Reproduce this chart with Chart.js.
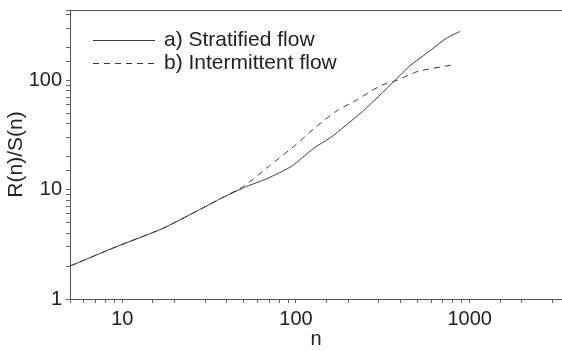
<!DOCTYPE html>
<html>
<head>
<meta charset="utf-8">
<script src="https://cdn.jsdelivr.net/npm/chart.js@4/dist/chart.umd.min.js"></script>
<style>
  html, body { margin: 0; padding: 0; background: #fff; }
  #wrap { width: 562px; height: 351px; }
</style>
</head>
<body>
<div id="wrap"><canvas id="chart"></canvas></div>
<script>
"use strict";

// values
const nStrat = [5, 9.2, 17, 27, 38, 52, 68, 94, 126, 161, 206, 242, 298, 381, 448, 600, 733, 881];
const rsStrat = [2.0, 3.0, 4.4, 6.4, 8.5, 10.7, 12.6, 16.3, 23.8, 30.6, 42, 52, 71, 104, 134, 190, 243, 280];
const nInter = [5, 9.2, 17, 27, 38, 50.6, 70.6, 98.5, 131, 173, 222, 309, 381, 506, 828];
const rsInter = [2.0, 3.0, 4.4, 6.4, 8.5, 10.9, 16.6, 25.3, 37.8, 53, 65.6, 90, 100, 121, 140];
const seriesLabels = ['a) Stratified flow', 'b) Intermittent flow'];
const decadeTicks = [1, 10, 100, 1000];

const FONT = '"Liberation Sans", Arial, sans-serif';
const INK = '#3a3a3a';

const pairs = (xs, ys) => xs.map((x, i) => ({ x: x, y: ys[i] }));

function decadeLabel(value) {
  return decadeTicks.includes(value) ? String(value) : '';
}

// legend drawn inside the plot area, plus the top frame line
const frameAndLegend = {
  id: 'frameAndLegend',
  afterDraw(chart) {
    const ctx = chart.ctx;
    const a = chart.chartArea;
    ctx.save();
    ctx.strokeStyle = '#555';
    ctx.lineWidth = 1;
    ctx.beginPath();
    ctx.moveTo(a.left, a.top + 0.5);
    ctx.lineTo(a.right, a.top + 0.5);
    ctx.stroke();

    const rows = [40, 63];
    chart.data.datasets.forEach((ds, i) => {
      const y = rows[i] + 0.5;
      ctx.strokeStyle = ds.borderColor;
      ctx.lineWidth = ds.borderWidth;
      ctx.setLineDash(ds.borderDash || []);
      ctx.beginPath();
      ctx.moveTo(93, y);
      ctx.lineTo(155, y);
      ctx.stroke();
      ctx.setLineDash([]);
      ctx.fillStyle = '#222';
      ctx.font = '21px ' + FONT;
      ctx.textBaseline = 'middle';
      ctx.fillText(ds.label, 164, rows[i]);
    });
    ctx.restore();
  }
};

new Chart(document.getElementById('chart'), {
  type: 'line',
  data: {
    datasets: [
      {
        label: seriesLabels[0],
        data: pairs(nStrat, rsStrat),
        borderColor: INK,
        borderWidth: 1,
        pointRadius: 0,
        tension: 0.2,
        fill: false
      },
      {
        label: seriesLabels[1],
        data: pairs(nInter, rsInter),
        borderColor: INK,
        borderWidth: 1,
        borderDash: [6, 5],
        pointRadius: 0,
        tension: 0.2,
        fill: false
      }
    ]
  },
  options: {
    responsive: true,
    maintainAspectRatio: false,
    animation: false,
    layout: { padding: { top: 10, right: 0, left: 4, bottom: 0 } },
    plugins: {
      legend: { display: false },
      tooltip: { enabled: false }
    },
    scales: {
      x: {
        type: 'logarithmic',
        min: 5,
        max: 3400,
        grid: { drawOnChartArea: false, tickLength: 4, color: '#666' },
        border: { color: '#555', width: 1 },
        ticks: {
          autoSkip: false,
          maxRotation: 0,
          padding: 4,
          color: '#222',
          font: { family: FONT, size: 20 },
          callback: decadeLabel
        },
        title: {
          display: true,
          text: 'n',
          color: '#222',
          font: { family: FONT, size: 20 },
          padding: { top: 0, bottom: 0 }
        },
        afterFit(scale) {
          scale.height = 52;
          scale.paddingLeft = 0;
          scale.paddingRight = 0;
        }
      },
      y: {
        type: 'logarithmic',
        min: 1,
        max: 440,
        grid: { drawOnChartArea: false, tickLength: 4, color: '#666' },
        border: { color: '#555', width: 1 },
        ticks: {
          autoSkip: false,
          padding: 4,
          color: '#222',
          font: { family: FONT, size: 20 },
          callback: decadeLabel
        },
        title: {
          display: true,
          text: 'R(n)/S(n)',
          color: '#222',
          font: { family: FONT, size: 21 },
          padding: { top: 0, bottom: 2 }
        },
        afterFit(scale) {
          scale.width = 66;
          scale.paddingTop = 0;
          scale.paddingBottom = 0;
        }
      }
    }
  },
  plugins: [frameAndLegend]
});
</script>
</body>
</html>
